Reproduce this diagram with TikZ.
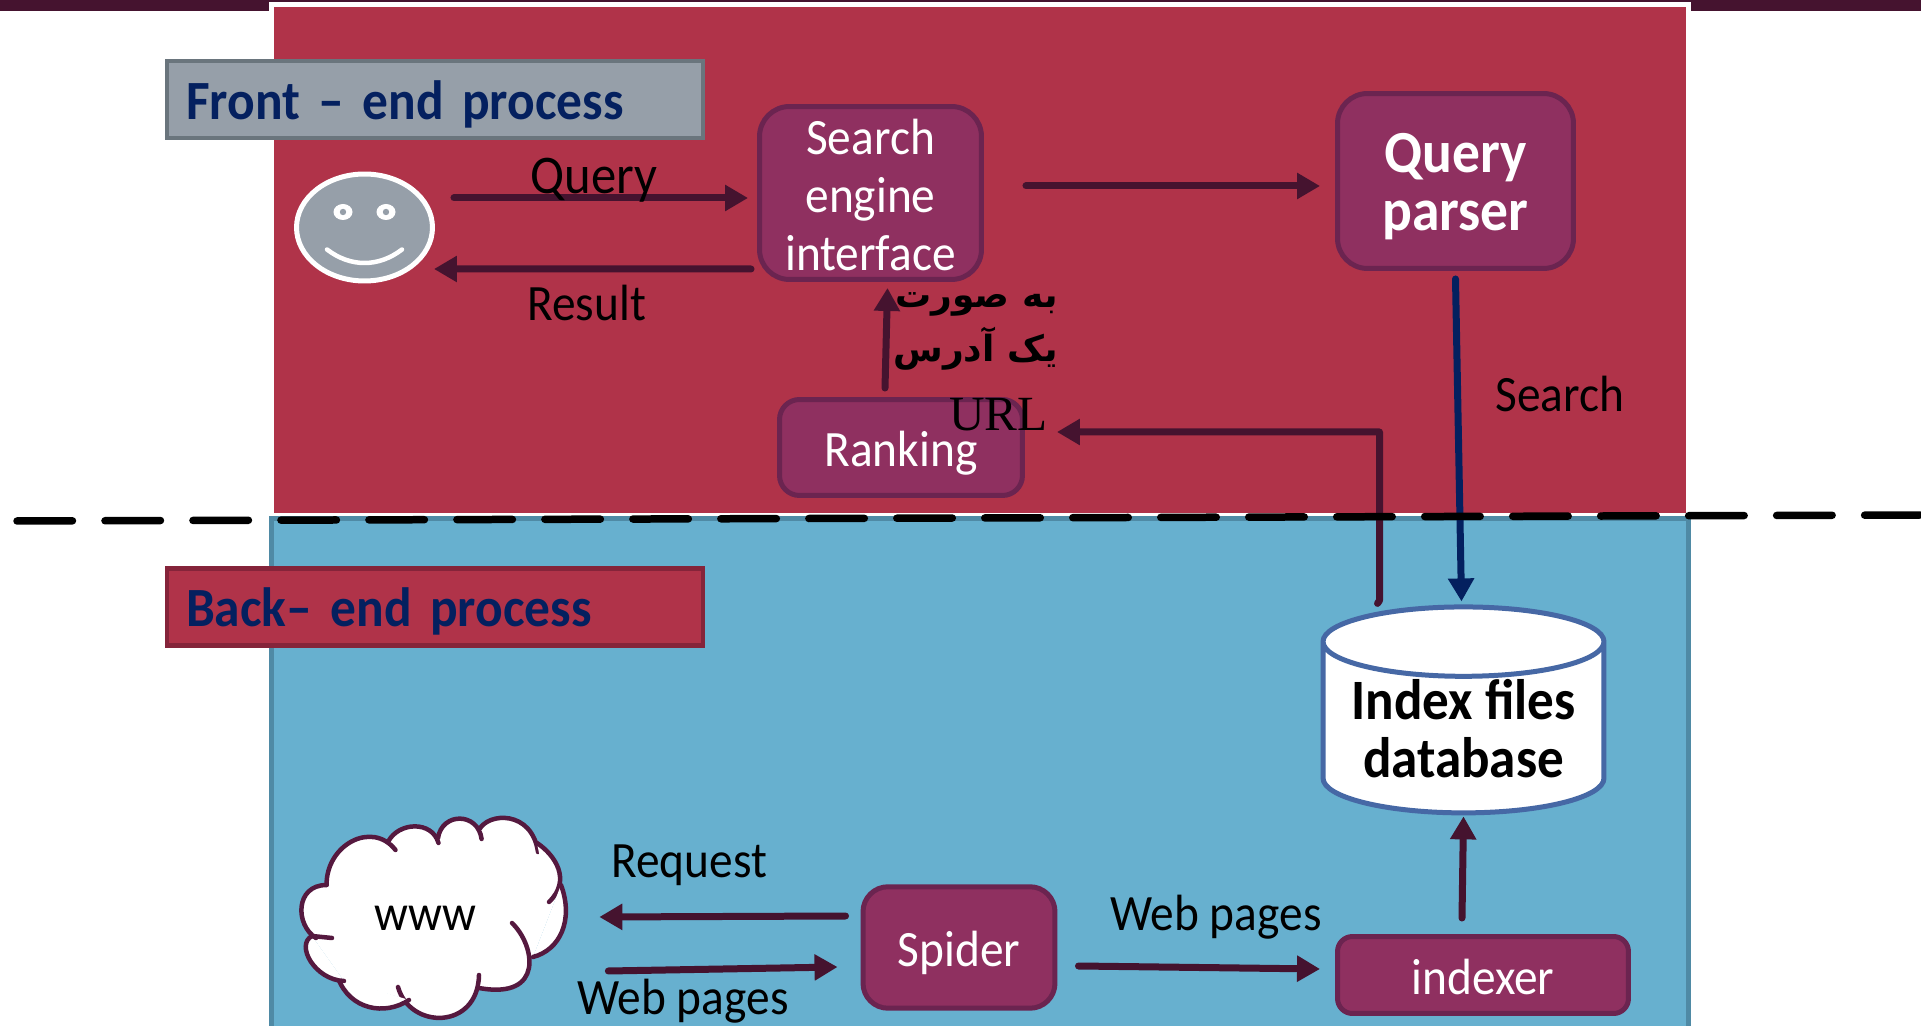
\documentclass[tikz,border=0pt]{standalone}
\usepackage{fontspec}
\setmainfont[FakeStretch=0.93]{Carlito}
\newfontfamily\arabicfont[Script=Arabic]{DejaVu Sans}
\newfontfamily\urlfont{Liberation Serif}
\TeXXeTstate=1
\usetikzlibrary{arrows.meta,shapes.geometric}
\definecolor{frontred}{HTML}{B03349}
\definecolor{backblue}{HTML}{67B0CF}
\definecolor{backedge}{HTML}{4F8AA5}
\definecolor{procfill}{HTML}{8F3060}
\definecolor{procedge}{HTML}{6B2450}
\definecolor{flowcol}{HTML}{45132F}
\definecolor{titlecol}{HTML}{04205F}
\definecolor{greyfill}{HTML}{969FA9}
\definecolor{greyedge}{HTML}{6A757D}
\definecolor{rededge}{HTML}{85243A}
\definecolor{cylcol}{HTML}{4668A5}
\definecolor{cloudcol}{HTML}{55193F}
\newcommand{\dropline}[2]{\raisebox{-#1cm}[\height][\depth]{#2}}
\tikzset{
  txt/.style={font=\fontsize{29}{33}\selectfont},
  lbl/.style={txt,inner sep=0pt,anchor=base west},
  procbox/.style={txt,draw=procedge,fill=procfill,text=white,line width=0.1cm,rounded corners=0.6cm,align=center,inner sep=0pt},
  titlebox/.style={font=\fontsize{31.5}{33}\selectfont\bfseries,text=titlecol,line width=0.09cm,minimum width=10.72cm,minimum height=1.54cm,text width=9.96cm,align=left,inner sep=0pt},
  flow/.style={draw=flowcol,line width=0.14cm,line cap=round,-{Triangle[length=0.46cm,width=0.5cm]}},
  lobe/.style={draw=cloudcol,fill=white,line width=0.09cm,line cap=round}
}
\begin{document}
\begin{tikzpicture}[x=0.02cm,y=-0.02cm]
    \useasboundingbox[fill=white] (0,0) rectangle (1921,1026);
    % panels
    \fill[flowcol] (0,0) rectangle (1921,11);
    \fill[white] (269,2) rectangle (1691,516);
    \fill[frontred] (274,7) rectangle (1686,513);
    \fill[backedge] (269,516.5) rectangle (1691,1026);
    \fill[backblue] (274,521) rectangle (1686,1026);
    % titles
    \node[titlebox,draw=greyedge,fill=greyfill] (front) at (435,99.5) {\dropline{0.09}{Front -- end process}};
    \node[titlebox,draw=rededge,fill=frontred] (back) at (435,607) {\dropline{0.09}{Back-- end process}};
    % user
    \node[ellipse,draw=white,fill=greyfill,line width=0.1cm,minimum width=2.72cm,minimum height=2.14cm,inner sep=0pt] (face) at (364.5,227.5) {};
    \foreach \ex in {-21.5,21.5} {
      \fill[white] ([shift={(\ex,-15.5)}]face.center) ellipse (9.5 and 8);
      \fill[greyfill] ([shift={(\ex,-15.5)}]face.center) circle (3.2);
    }
    \draw[white,line width=0.09cm,line cap=round] ([shift={(-37.5,22)}]face.center) .. controls ([shift={(-14,40)}]face.center) and ([shift={(14,40)}]face.center) .. ([shift={(37.5,22)}]face.center);
    % front end boxes
    \node[procbox,minimum width=4.44cm,minimum height=3.46cm] (engine) at (870.5,193) {\dropline{0.04}{Search}\\\dropline{0.04}{engine}\\\dropline{0.04}{interface}};
    \node[procbox,minimum width=4.72cm,minimum height=3.5cm,font=\fontsize{34}{33}\selectfont\bfseries] (parser) at (1455.5,181) {\dropline{0.12}{Query}\\\dropline{0.12}{parser}};
    \node[procbox,minimum width=4.86cm,minimum height=1.92cm,rounded corners=0.4cm] (ranking) at (901,447.5) {\dropline{0.12}{Ranking}};
    % back end boxes
    \node[procbox,minimum width=3.84cm,minimum height=2.43cm,rounded corners=0.5cm] (spider) at (959,947.5) {\dropline{0.1}{Spider}};
    \node[procbox,minimum width=5.82cm,minimum height=1.54cm,rounded corners=0.3cm] (indexer) at (1483,975) {\dropline{0.03}{indexer}};
    \node[cylinder,shape border rotate=90,aspect=0.31,draw=cylcol,fill=white,line width=0.1cm,minimum width=5.62cm,minimum height=4.12cm,inner sep=0pt,align=center,font=\fontsize{32.5}{33}\selectfont\bfseries] (db) at (1463.5,728.5) {\dropline{0}{Index files}\\\dropline{0}{database}};
    % cloud
    \fill[white] (326.6,885)--(388,842)--(438,838)--(479,830)--(537,843)--(561,885)--(533,957)--(479,988)--(409,1000)--(344,981)--(312,936)--cycle;
    \foreach \sx/\sy/\ax/\ay/\bx/\by/\ex/\ey in {
      326.6/885/326/845/372/820/395.5/850,
      388/842/398/822/432/820/438.5/843,
      438/838/442/812/478/812/481.6/839,
      479/830/488/812/532/810/538/852,
      537/843/555/855/572/880/549/902,
      561/885/574/920/560/950/533/957,
      479/975/478/1030/410/1030/398/987,
      512/923/535/945/545/1000/479/988,
      409/1000/385/1016/350/1010/338/978,
      344/981/315/980/295/945/312/936,
      316/938/295/925/295/885/326.6/885} {
      \draw[lobe] (\sx,\sy) .. controls (\ax,\ay) and (\bx,\by) .. (\ex,\ey);
    }
    \draw[lobe] (312,936) -- (332,938);
    \node[txt,inner sep=0pt] (www) at (425,918) {www};
    % connectors
    \draw[flow] ([shift={(19,-29.5)}]face.east) -- ([shift={(-9,5)}]engine.west);
    \draw[flow] ([shift={(-6,76)}]engine.west) -- ([shift={(-1,41.5)}]face.east);
    \draw[flow] ([shift={(42,-7)}]engine.east) -- ([shift={(-15,5)}]parser.west);
    \draw[flow] ([shift={(-16,-9)}]ranking.north) -- ([shift={(17,6)}]engine.south);
    \draw[flow,draw=titlecol] ([shift={(0,8)}]parser.south) -- ([shift={(-2,-3)}]db.north);
    \draw[flow,line join=round] ([shift={(-86,-1)}]db.north) -- ([shift={(-84,-4)}]db.north) |- ([shift={(32,-15.5)}]ranking.east);
    \draw[flow] ([shift={(-15,-31.5)}]spider.west) -- ([shift={(123,-1)}]www.east);
    \draw[flow] ([shift={(132,53)}]www.east) -- ([shift={(-23,19.5)}]spider.west);
    \draw[flow] ([shift={(21,18.5)}]spider.east) -- ([shift={(-15,-6)}]indexer.west);
    \draw[flow] ([shift={(-21,-16)}]indexer.north) -- ([shift={(0,1)}]db.south);
    % divider
    \draw[black,line width=0.15cm,line cap=round,dash pattern=on 1.11cm off 0.65cm] (17,521) -- (1921,515);
    % labels
    \node[lbl,font=\fontsize{31}{33}\selectfont] (query) at (530,193.5) {Query};
    \node[lbl] (result) at (527,320.5) {Result};
    \node[lbl] (search) at (1495,411.5) {Search};
    \node[lbl] (request) at (611,877) {Request};
    \node[lbl] (pagesa) at (577,1014) {Web pages};
    \node[lbl] (pagesb) at (1110,930) {Web pages};
    \node[align=right,inner sep=0pt,anchor=north east,font=\fontsize{20.5}{33}\selectfont\bfseries] (url) at (1058,292) {\arabicfont\beginR به صورت\endR\\[-0.08cm]\arabicfont\beginR یک آدرس\endR\\[0.23cm]{\urlfont\mdseries\fontsize{28}{33}\selectfont URL}\hspace*{0.2cm}};
\end{tikzpicture}
\end{document}
